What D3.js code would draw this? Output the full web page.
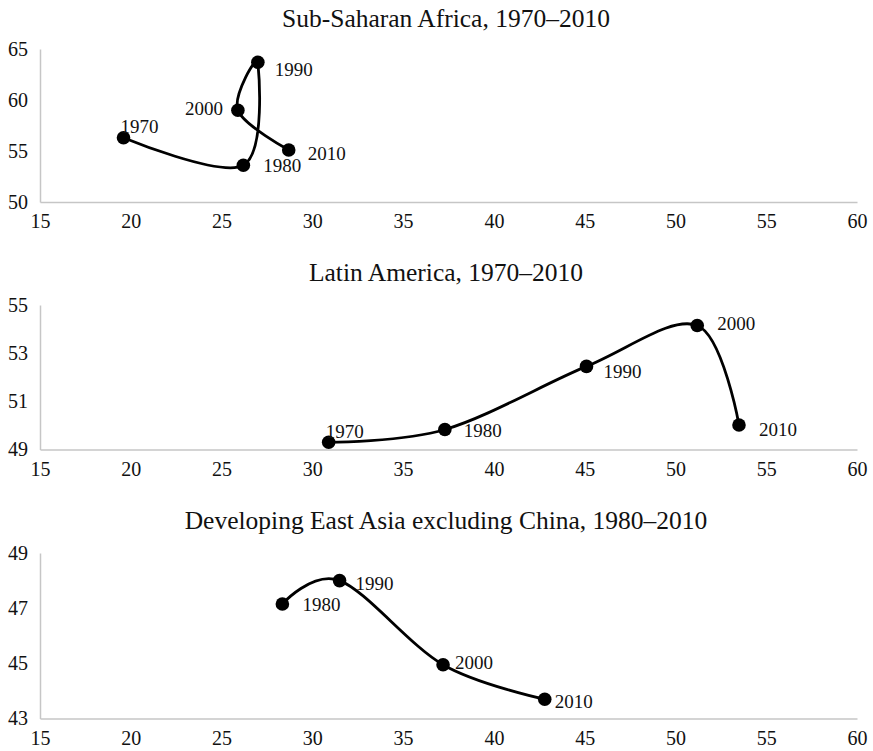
<!DOCTYPE html>
<html>
<head>
<meta charset="utf-8">
<script src="https://cdn.jsdelivr.net/npm/d3@7"></script>
<style>
    body { margin: 0; background: #fff; }
    text { font-family: "Liberation Serif", "Times New Roman", serif; fill: #111; }
</style>
</head>
<body>
<div class="container"></div>
<script>
// x axis is shared by all three panels
let xTicks = [15, 20, 25, 30, 35, 40, 45, 50, 55, 60];

// Sub-Saharan Africa
let ssaYears = [1970, 1980, 1990, 2000, 2010];
let ssaX = [19.6, 26.2, 27.0, 25.9, 28.7];
let ssaY = [56.3, 53.6, 63.7, 59.0, 55.1];
let ssaTicks = [50, 55, 60, 65];

// Latin America
let laYears = [1970, 1980, 1990, 2000, 2010];
let laX = [30.9, 37.3, 45.1, 51.2, 53.5];
let laY = [49.3, 49.83, 52.45, 54.15, 50.02];
let laTicks = [49, 51, 53, 55];

// Developing East Asia excluding China
let eaYears = [1980, 1990, 2000, 2010];
let eaX = [28.35, 31.5, 37.2, 42.8];
let eaY = [47.15, 48.0, 44.95, 43.7];
let eaTicks = [43, 45, 47, 49];

let width = 873;
let height = 751;

let svg = d3.select(".container")
    .append("svg")
    .attr("width", width)
    .attr("height", height);

svg.append("rect")
    .attr("width", width)
    .attr("height", height)
    .attr("fill", "#fff");

let x = d3.scaleLinear()
    .domain([15, 60])
    .range([40, 857]);

// panel layout: title baseline, plot top/bottom in pixels, label nudges
let panels = [
    {
        title: "Sub-Saharan Africa, 1970\u20132010",
        years: ssaYears, xs: ssaX, ys: ssaY, ticks: ssaTicks,
        titleY: 27, top: 49, bottom: 202,
        offsets: [[-3, -5, "start"], [20, 7, "start"], [17, 14, "start"], [-15, 5, "end"], [19, 10, "start"]]
    },
    {
        title: "Latin America, 1970\u20132010",
        years: laYears, xs: laX, ys: laY, ticks: laTicks,
        titleY: 281, top: 305, bottom: 449.5,
        offsets: [[-3, -4, "start"], [19, 7, "start"], [17, 12, "start"], [20, 5, "start"], [20, 11, "start"]]
    },
    {
        title: "Developing East Asia excluding China, 1980\u20132010",
        years: eaYears, xs: eaX, ys: eaY, ticks: eaTicks,
        titleY: 529, top: 553, bottom: 718.5,
        offsets: [[20, 7, "start"], [16, 9, "start"], [12, 4, "start"], [10, 9, "start"]]
    }
];

panels.forEach(function (p) {
    let y = d3.scaleLinear()
        .domain([p.ticks[0], p.ticks[p.ticks.length - 1]])
        .range([p.bottom, p.top]);

    let g = svg.append("g");

    g.append("text")
        .attr("x", 446)
        .attr("y", p.titleY)
        .attr("text-anchor", "middle")
        .style("font-size", "25.5px")
        .text(p.title);

    // y axis
    let yAxis = g.append("g")
        .attr("transform", "translate(40,0)")
        .call(d3.axisLeft(y).tickValues(p.ticks).tickFormat(d3.format("d")).tickSize(0).tickPadding(12));
    yAxis.select(".domain").attr("stroke", "#c6c6c6").attr("stroke-width", 1.5);
    yAxis.selectAll("text").style("font-size", "20px").attr("fill", "#111");

    // x axis
    let xAxis = g.append("g")
        .attr("transform", "translate(0," + p.bottom + ")")
        .call(d3.axisBottom(x).tickValues(xTicks).tickFormat(d3.format("d")).tickSize(0).tickPadding(12));
    xAxis.select(".domain").attr("stroke", "#c6c6c6").attr("stroke-width", 1.5);
    xAxis.selectAll("text").style("font-size", "20px").attr("fill", "#111");

    let pts = p.years.map(function (yr, i) {
        return { year: yr, x: p.xs[i], y: p.ys[i], off: p.offsets[i] };
    });

    let line = d3.line()
        .x(function (d) { return x(d.x); })
        .y(function (d) { return y(d.y); })
        .curve(d3.curveCardinal.tension(0));

    g.append("path")
        .datum(pts)
        .attr("d", line)
        .attr("fill", "none")
        .attr("stroke", "#000")
        .attr("stroke-width", 2.8);

    g.selectAll(".dot")
        .data(pts)
        .enter()
        .append("circle")
        .attr("cx", function (d) { return x(d.x); })
        .attr("cy", function (d) { return y(d.y); })
        .attr("r", 6.8)
        .attr("fill", "#000");

    g.selectAll(".lbl")
        .data(pts)
        .enter()
        .append("text")
        .attr("x", function (d) { return x(d.x) + d.off[0]; })
        .attr("y", function (d) { return y(d.y) + d.off[1]; })
        .attr("text-anchor", function (d) { return d.off[2]; })
        .style("font-size", "19px")
        .text(function (d) { return d.year; });
});
</script>
</body>
</html>
